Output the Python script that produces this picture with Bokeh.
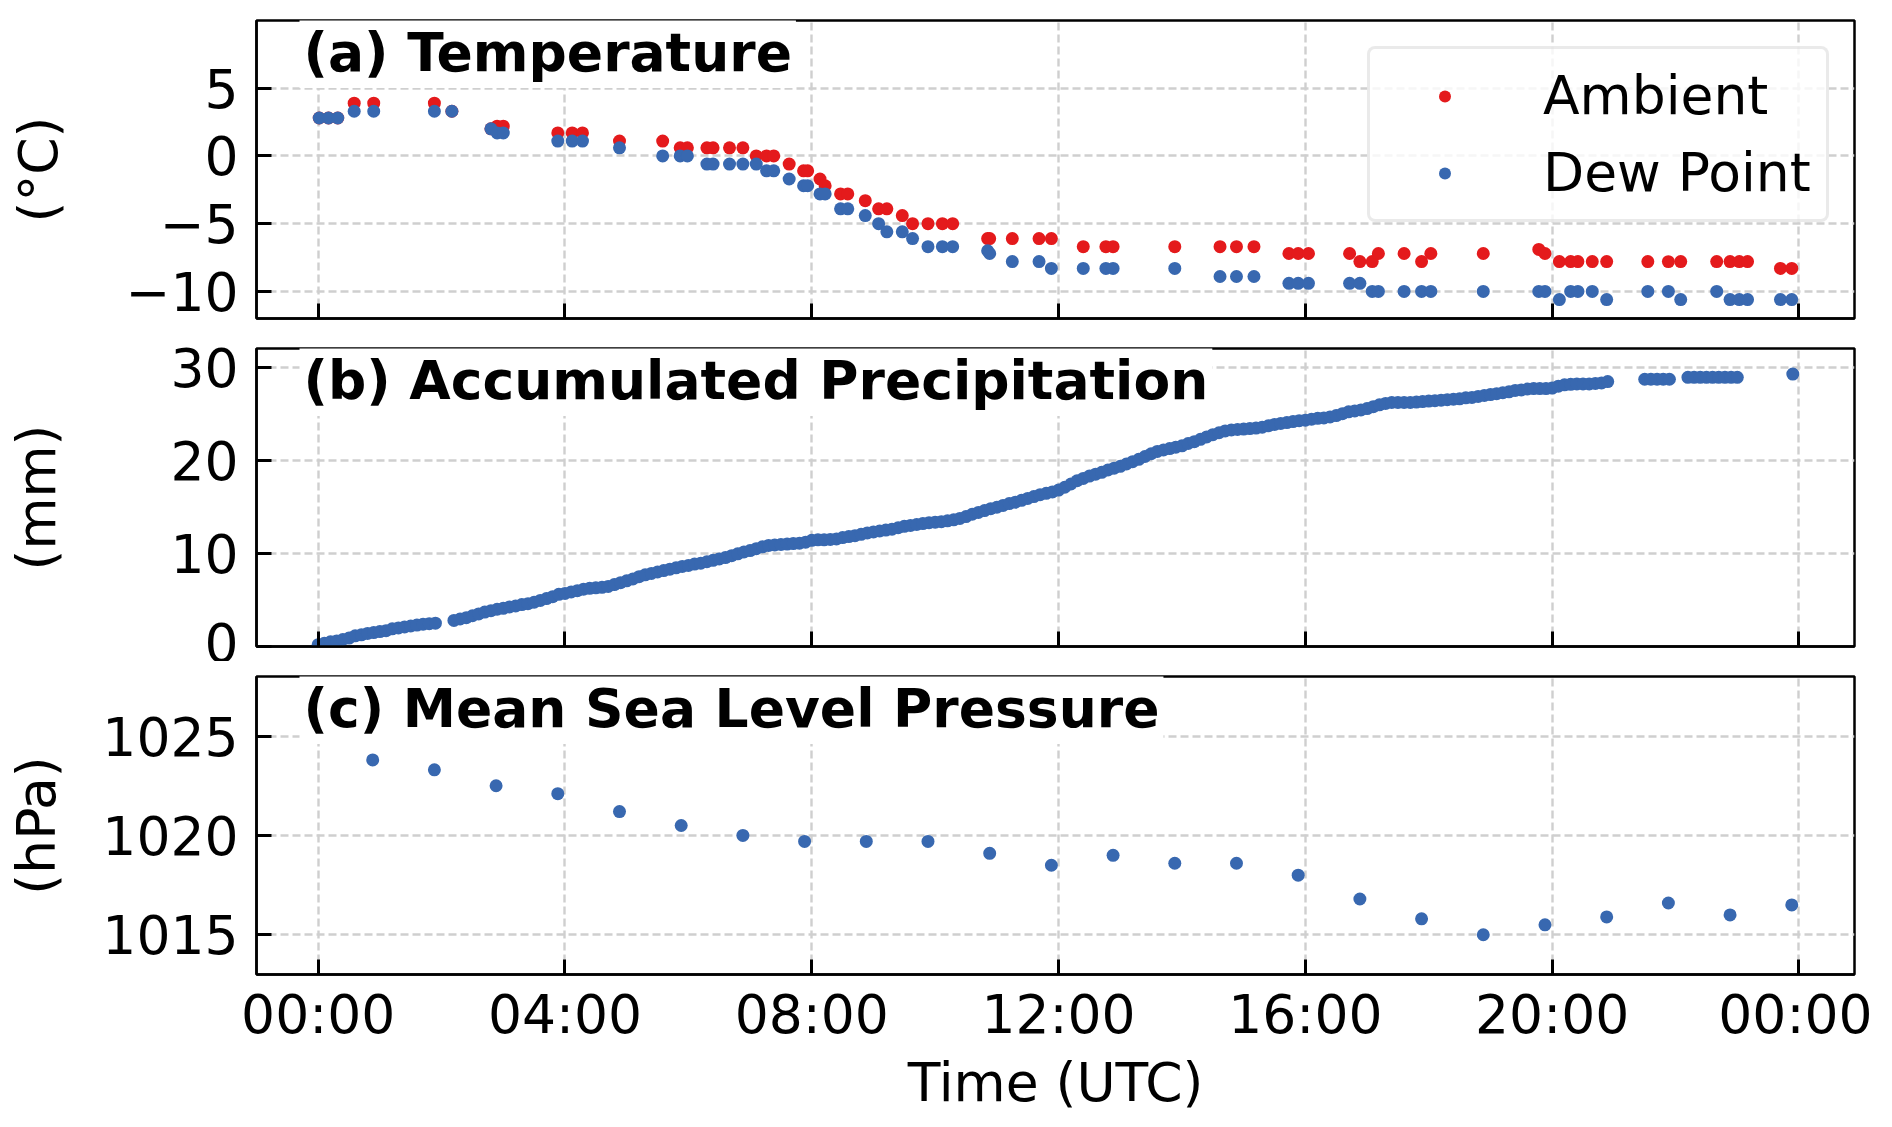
import pandas as pd

from bokeh.plotting import figure
from bokeh.layouts import column
from bokeh.models import Range1d, FixedTicker, Legend, LegendItem, Label
from bokeh.embed import file_html
from bokeh.resources import INLINE

# 观测日（图中未给出日期，仅用作时间轴基准）
DAY = "2021-01-01"

# (a) 气温与露点，单位 °C
temp_time = ["00:01", "00:10", "00:19", "00:35", "00:54", "01:53", "02:10", "02:48", "02:54", "03:00",
             "03:53", "04:07", "04:17", "04:53", "05:35", "05:52", "05:59", "06:18", "06:24", "06:40",
             "06:53", "07:06", "07:16", "07:23", "07:38", "07:52", "07:56", "08:08", "08:13", "08:28",
             "08:35", "08:52", "09:05", "09:13", "09:28", "09:38", "09:53", "10:07", "10:17", "10:51",
             "10:53", "11:15", "11:41", "11:53", "12:24", "12:46", "12:53", "13:53", "14:37", "14:53",
             "15:10", "15:44", "15:53", "16:03", "16:43", "16:53", "17:05", "17:11", "17:36", "17:53",
             "18:02", "18:53", "19:47", "19:53", "20:07", "20:18", "20:25", "20:39", "20:53", "21:33",
             "21:53", "22:05", "22:40", "22:53", "23:02", "23:10", "23:42", "23:53"]
ambient = [2.8, 2.8, 2.8, 3.9, 3.9, 3.9, 3.3, 2.0, 2.2, 2.2,
           1.7, 1.7, 1.7, 1.1, 1.1, 0.6, 0.6, 0.6, 0.6, 0.6,
           0.6, 0.0, 0.0, 0.0, -0.6, -1.1, -1.1, -1.7, -2.2, -2.8,
           -2.8, -3.3, -3.9, -3.9, -4.4, -5.0, -5.0, -5.0, -5.0, -6.1,
           -6.1, -6.1, -6.1, -6.1, -6.7, -6.7, -6.7, -6.7, -6.7, -6.7,
           -6.7, -7.2, -7.2, -7.2, -7.2, -7.8, -7.8, -7.2, -7.2, -7.8,
           -7.2, -7.2, -6.9, -7.2, -7.8, -7.8, -7.8, -7.8, -7.8, -7.8,
           -7.8, -7.8, -7.8, -7.8, -7.8, -7.8, -8.3, -8.3]
dew_point = [2.8, 2.8, 2.8, 3.3, 3.3, 3.3, 3.3, 2.0, 1.7, 1.7,
             1.1, 1.1, 1.1, 0.6, 0.0, 0.0, 0.0, -0.6, -0.6, -0.6,
             -0.6, -0.6, -1.1, -1.1, -1.7, -2.2, -2.2, -2.8, -2.8, -3.9,
             -3.9, -4.4, -5.0, -5.6, -5.6, -6.1, -6.7, -6.7, -6.7, -7.0,
             -7.2, -7.8, -7.8, -8.3, -8.3, -8.3, -8.3, -8.3, -8.9, -8.9,
             -8.9, -9.4, -9.4, -9.4, -9.4, -9.4, -10.0, -10.0, -10.0, -10.0,
             -10.0, -10.0, -10.0, -10.0, -10.6, -10.0, -10.0, -10.0, -10.6, -10.0,
             -10.0, -10.6, -10.0, -10.6, -10.6, -10.6, -10.6, -10.6]

# (b) 累积降水，单位 mm，每 6 分钟一个读数（每行一小时），None 为缺测
precip_mm = [
    0.2, 0.35, 0.5, 0.6, 0.75, 0.9, 1.15, 1.25, 1.4, 1.5,
    1.6, 1.7, 1.9, 2.0, 2.1, 2.2, 2.3, 2.4, 2.45, 2.5,
    None, None, 2.8, 2.95, 3.1, 3.3, 3.5, 3.7, 3.85, 4.0,
    4.1, 4.25, 4.35, 4.5, 4.6, 4.75, 4.95, 5.15, 5.35, 5.6,
    5.7, 5.85, 6.0, 6.15, 6.25, 6.3, 6.35, 6.45, 6.65, 6.85,
    7.05, 7.25, 7.5, 7.7, 7.85, 8.0, 8.15, 8.3, 8.45, 8.6,
    8.7, 8.85, 8.95, 9.1, 9.25, 9.4, 9.55, 9.75, 9.95, 10.15,
    10.3, 10.5, 10.7, 10.85, 10.9, 10.95, 11.0, 11.05, 11.1, 11.2,
    11.4, 11.45, 11.45, 11.5, 11.55, 11.7, 11.8, 11.9, 12.05, 12.2,
    12.3, 12.4, 12.5, 12.6, 12.75, 12.9, 13.0, 13.1, 13.2, 13.3,
    13.35, 13.4, 13.5, 13.6, 13.75, 13.95, 14.2, 14.4, 14.6, 14.8,
    14.95, 15.15, 15.35, 15.5, 15.7, 15.9, 16.1, 16.3, 16.45, 16.6,
    16.8, 17.1, 17.45, 17.8, 18.05, 18.3, 18.5, 18.7, 18.95, 19.15,
    19.35, 19.6, 19.85, 20.1, 20.4, 20.7, 20.95, 21.1, 21.25, 21.4,
    21.55, 21.8, 22.0, 22.25, 22.5, 22.75, 22.95, 23.15, 23.25, 23.3,
    23.35, 23.4, 23.45, 23.55, 23.7, 23.85, 23.95, 24.05, 24.15, 24.25,
    24.3, 24.4, 24.5, 24.55, 24.65, 24.8, 25.0, 25.2, 25.3, 25.4,
    25.55, 25.75, 25.95, 26.1, 26.2, 26.2, 26.2, 26.2, 26.25, 26.3,
    26.35, 26.4, 26.45, 26.5, 26.55, 26.6, 26.7, 26.75, 26.85, 26.95,
    27.05, 27.15, 27.25, 27.35, 27.5, 27.55, 27.65, 27.7, 27.7, 27.7,
    27.75, 27.95, 28.1, 28.15, 28.2, 28.2, 28.2, 28.25, 28.3, 28.45,
    None, None, None, None, None, 28.7, 28.7, 28.7, 28.7, 28.7,
    None, None, 28.9, 28.9, 28.9, 28.9, 28.9, 28.9, 28.9, 28.9,
    28.9, None, None, None, None, None, None, None, None, 29.25,
]

# (c) 海平面气压，单位 hPa，逐时
pres_time = ["00:53", "01:53", "02:53", "03:53", "04:53", "05:53", "06:53", "07:53",
             "08:53", "09:53", "10:53", "11:53", "12:53", "13:53", "14:53", "15:53",
             "16:53", "17:53", "18:53", "19:53", "20:53", "21:53", "22:53", "23:53"]
mslp = [1023.8, 1023.3, 1022.5, 1022.1, 1021.2, 1020.5, 1020.0, 1019.7,
        1019.7, 1019.7, 1019.1, 1018.5, 1019.0, 1018.6, 1018.6, 1018.0,
        1016.8, 1015.8, 1015.0, 1015.5, 1015.9, 1016.6, 1016.0, 1016.5]

# 坐标轴
x_tick_hours = [0, 4, 8, 12, 16, 20, 24]
x_tick_labels = ["00:00", "04:00", "08:00", "12:00", "16:00", "20:00", "00:00"]
temp_ticks = [-10, -5, 0, 5]
precip_ticks = [0, 10, 20, 30]
pres_ticks = [1015, 1020, 1025]

RED = "#e41a1c"
BLUE = "#3868b0"
FONT = "DejaVu Sans"
FS = "53.5px"
FRAME_H = 298
DOT = 13

base = pd.Timestamp(DAY)


def to_dt(times):
    return [pd.Timestamp(f"{DAY} {t}") for t in times]


def to_ms(ts):
    return ts.value // 10**6


precip_time = pd.date_range(base, periods=len(precip_mm), freq="6min")
precip_val = [float("nan") if v is None else v for v in precip_mm]

x_range = Range1d(start=base - pd.Timedelta(hours=1.0), end=base + pd.Timedelta(hours=24.9))
x_ticks = [to_ms(base + pd.Timedelta(hours=h)) for h in x_tick_hours]


def make_panel(y_range, y_ticks, ylabel, ylabel_standoff, top, bottom, title):
    p = figure(frame_width=1598, frame_height=FRAME_H, x_axis_type="datetime",
               x_range=x_range, y_range=y_range,
               output_backend="svg", toolbar_location=None,
               min_border_left=256, min_border_right=18,
               min_border_top=top, min_border_bottom=bottom)
    p.background_fill_color = "white"
    p.border_fill_color = "white"
    p.outline_line_color = "black"
    p.outline_line_width = 2.5

    p.xaxis.ticker = FixedTicker(ticks=x_ticks)
    p.xaxis.major_label_overrides = dict(zip(x_ticks, x_tick_labels))
    p.yaxis.ticker = FixedTicker(ticks=y_ticks)

    for ax in (p.xaxis[0], p.yaxis[0]):
        ax.axis_line_color = "black"
        ax.axis_line_width = 2.5
        ax.major_tick_in = 15
        ax.major_tick_out = 0
        ax.major_tick_line_width = 3
        ax.minor_tick_in = 0
        ax.minor_tick_out = 0
        ax.major_label_text_font = FONT
        ax.major_label_text_font_size = FS
        ax.major_label_text_color = "black"
        ax.axis_label_text_font = FONT
        ax.axis_label_text_font_size = FS
        ax.axis_label_text_font_style = "normal"
        ax.axis_label_text_color = "black"

    p.yaxis.major_label_standoff = 18
    p.yaxis.axis_label = ylabel
    p.yaxis.axis_label_standoff = ylabel_standoff

    p.grid.grid_line_color = "#cfcfcf"
    p.grid.grid_line_width = 2.4
    p.grid.grid_line_dash = "8 4"

    lab = Label(x=43, y=FRAME_H - 32, x_units="screen", y_units="screen", text=title,
                text_font=FONT, text_font_size=FS, text_font_style="bold",
                text_color="black", text_baseline="alphabetic",
                background_fill_color="white", padding=4)
    p.add_layout(lab)
    return p


def hide_x_labels(p):
    # 上两幅只保留刻度线，不显示时间标签
    p.xaxis.major_label_overrides = {t: "" for t in x_ticks}
    p.xaxis.major_label_text_font_size = "1px"
    p.xaxis.major_label_standoff = 0


# (a) 气温
pa = make_panel(Range1d(-12, 10), temp_ticks, "(°C)", 53, 20, 15, "(a) Temperature")
pa.yaxis.major_label_overrides = {-10: "\u221210", -5: "\u22125"}
hide_x_labels(pa)
r_amb = pa.scatter(to_dt(temp_time), ambient, size=DOT, color=RED, line_color=None)
r_dew = pa.scatter(to_dt(temp_time), dew_point, size=DOT, color=BLUE, line_color=None)

legend = Legend(items=[LegendItem(label="Ambient", renderers=[r_amb]),
                       LegendItem(label="Dew Point", renderers=[r_dew])],
                location=(1111, 96), orientation="vertical",
                label_text_font=FONT, label_text_font_size=FS, label_text_color="black",
                padding=15, spacing=14, margin=0,
                glyph_width=119, glyph_height=30, label_height=60, label_width=262,
                label_standoff=39,
                border_line_color="#d5d5d5", border_line_width=3, border_radius=8,
                background_fill_color="white", background_fill_alpha=0.8)
pa.add_layout(legend)

# (b) 累积降水
pb = make_panel(Range1d(0, 32), precip_ticks, "(mm)", 99, 15, 15, "(b) Accumulated Precipitation")
hide_x_labels(pb)
pb.scatter(precip_time, precip_val, size=DOT, color=BLUE, line_color=None)

# (c) 海平面气压
pc = make_panel(Range1d(1013, 1028), pres_ticks, "(hPa)", 31, 15, 136, "(c) Mean Sea Level Pressure")
pc.xaxis.axis_label = "Time (UTC)"
pc.xaxis.major_label_standoff = 8
pc.xaxis.axis_label_standoff = 2
pc.scatter(to_dt(pres_time), mslp, size=DOT, color=BLUE, line_color=None)

p = column(pa, pb, pc, spacing=0)

open("out.html", "w").write(file_html(p, INLINE))
